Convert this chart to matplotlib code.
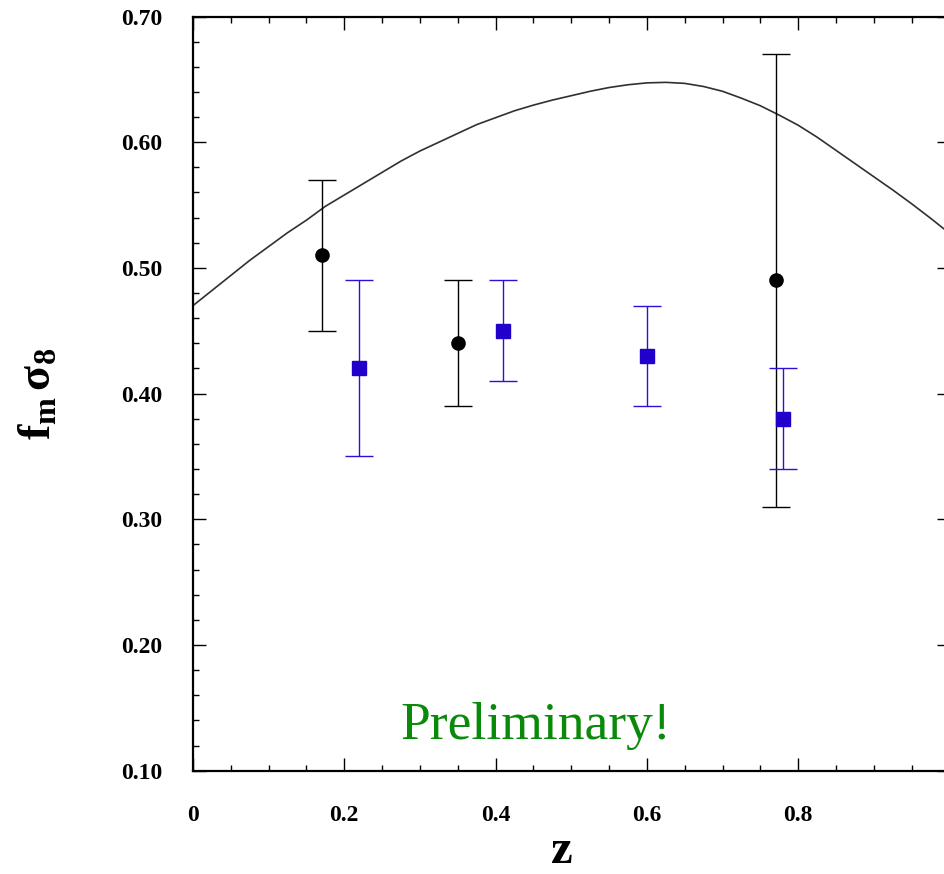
import numpy as np
import matplotlib
matplotlib.use('Agg')
import matplotlib.pyplot as plt
from matplotlib.ticker import MultipleLocator

# Data
z_black = [0.17, 0.35, 0.77]
f_black = [0.51, 0.44, 0.49]
err_black = [0.06, 0.05, 0.18]

z_blue = [0.22, 0.41, 0.60, 0.78]
f_blue = [0.42, 0.45, 0.43, 0.38]
err_blue = [0.07, 0.04, 0.04, 0.04]

# Model curve, read every 0.025 in z
z_model = [0.000, 0.025, 0.050, 0.075, 0.100, 0.125, 0.150, 0.175, 0.200, 0.225,
           0.250, 0.275, 0.300, 0.325, 0.350, 0.375, 0.400, 0.425, 0.450, 0.475,
           0.500, 0.525, 0.550, 0.575, 0.600, 0.625, 0.650, 0.675, 0.700, 0.725,
           0.750, 0.775, 0.800, 0.825, 0.850, 0.875, 0.900, 0.925, 0.950, 0.975, 1.000]
f_model = [0.4700, 0.4820, 0.4940, 0.5060, 0.5170, 0.5280, 0.5380, 0.5490, 0.5580, 0.5670,
           0.5760, 0.5850, 0.5930, 0.6000, 0.6070, 0.6140, 0.6195, 0.6250, 0.6295, 0.6335,
           0.6370, 0.6405, 0.6435, 0.6457, 0.6472, 0.6476, 0.6468, 0.6443, 0.6405, 0.6350,
           0.6290, 0.6215, 0.6135, 0.6040, 0.5935, 0.5830, 0.5725, 0.5620, 0.5510, 0.5395, 0.5275]

xticks = [0.0, 0.2, 0.4, 0.6, 0.8, 1.0]
xticklabels = ['0', '0.2', '0.4', '0.6', '0.8', '']
yticks = [0.10, 0.20, 0.30, 0.40, 0.50, 0.60, 0.70]
yticklabels = ['0.10', '0.20', '0.30', '0.40', '0.50', '0.60', '0.70']

serif = 'Liberation Serif'
plt.rcParams['mathtext.fontset'] = 'custom'
plt.rcParams['mathtext.rm'] = 'Liberation Serif:bold'
plt.rcParams['mathtext.it'] = 'Liberation Serif:bold'
plt.rcParams['mathtext.bf'] = 'Liberation Serif:bold'

fig = plt.figure(figsize=(9.44, 8.74), dpi=100)
ax = fig.add_axes([193 / 944, (874 - 770.7) / 874, 756.5 / 944, (770.7 - 16.5) / 874])

# model line
ax.plot(z_model, f_model, color='#303030', lw=1.2, zorder=2)

# data points
ax.errorbar(z_black, f_black, yerr=err_black, fmt='o', color='black', ms=9.5,
            ecolor='black', elinewidth=1.0, capsize=10, capthick=1.0, zorder=3)
ax.errorbar(z_blue, f_blue, yerr=err_blue, fmt='s', color='#2200cc', ms=10,
            ecolor='#2a10d8', elinewidth=1.0, capsize=10, capthick=1.0, zorder=3)

ax.set_xlim(0, 1.0)
ax.set_ylim(0.10, 0.70)
ax.set_xticks(xticks)
ax.set_xticklabels(xticklabels)
ax.set_yticks(yticks)
ax.set_yticklabels(yticklabels)
ax.xaxis.set_minor_locator(MultipleLocator(0.05))
ax.yaxis.set_minor_locator(MultipleLocator(0.02))

ax.tick_params(which='both', direction='in', top=True, right=True, width=1.0, color='black')
ax.tick_params(which='major', length=9.5)
ax.tick_params(which='minor', length=4.5)
ax.tick_params(axis='x', which='major', pad=25)
ax.tick_params(axis='y', which='major', pad=22)
for lab in ax.get_xticklabels() + ax.get_yticklabels():
    lab.set_fontfamily(serif)
    lab.set_fontweight('bold')
    lab.set_fontsize(17)

for sp in ax.spines.values():
    sp.set_linewidth(1.6)

ax.text(0.4527, 0.1252, 'Preliminary!', ha='center', va='baseline',
        color='#0a8a0a', fontsize=38.5, family=serif)

fig.text(561.7 / 944, (874 - 863) / 874, 'z', ha='center', va='baseline',
         fontsize=35, family=serif, fontweight='bold')
fig.text(38 / 944, (874 - 394) / 874, r'$\mathrm{f_m\,\sigma_8}$', rotation=90,
         ha='center', va='center', fontsize=33)

fig.savefig('out.png', dpi=100)
